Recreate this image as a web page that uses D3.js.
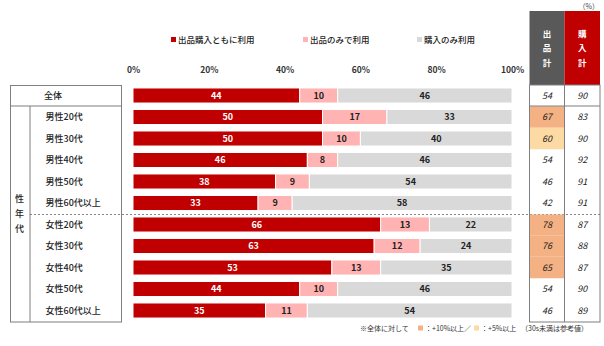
<!DOCTYPE html>
<html><head><meta charset="utf-8">
<script src="https://cdn.jsdelivr.net/npm/d3@7"></script>
<style>body{margin:0;background:#fff;} text{font-family:"Noto Sans CJK JP","Noto Sans",sans-serif;}</style>
</head><body>
<svg id="c" width="604" height="346"></svg>
<script>
const categories = ["全体","男性20代","男性30代","男性40代","男性50代","男性60代以上","女性20代","女性30代","女性40代","女性50代","女性60代以上"];
const seriesNames = ["出品購入ともに利用","出品のみで利用","購入のみ利用"];
const both = [44,50,50,46,38,33,66,63,53,44,35];
const sellOnly = [10,17,10,8,9,9,13,12,13,10,11];
const buyOnly = [46,33,40,46,54,58,22,24,35,46,54];
const sellTotal = [54,67,60,54,46,42,78,76,65,54,46];
const buyTotal = [90,83,90,92,91,91,87,88,87,90,89];
// highlight: 2 = +10%以上, 1 = +5%以上
const sellHighlight = [0,2,1,0,0,0,2,2,2,0,0];
const xTicks = [0,20,40,60,80,100];
const colors = ["#c00000","#ffb3b3","#d9d9d9"];
const hlColors = {2:"#f4b183",1:"#fdd9a3"};

const svg = d3.select("#c");
const x = d3.scaleLinear().domain([0,100]).range([133,512]);
const y = d3.scaleBand().domain(categories).range([84.75,321.25]).paddingInner(0.3).paddingOuter(0.15);

// legend
const legX = [171,303,417];
seriesNames.forEach((s,i)=>{
  svg.append("rect").attr("x",legX[i]).attr("y",37).attr("width",5).attr("height",5).attr("fill",colors[i]);
  svg.append("text").attr("x",legX[i]+7).attr("y",43).attr("font-size",8.5).attr("font-weight",500).attr("fill","#222").text(s);
});

// axis labels
const axis = d3.axisTop(x).tickValues(xTicks).tickFormat(d=>d+"%").tickSize(0);
const ag = svg.append("g").attr("transform","translate(0,76)").call(axis);
ag.select(".domain").remove();
ag.selectAll("text").attr("font-size",8.5).attr("font-weight",600).attr("fill","#333")
  .style("font-family","'Noto Sans CJK JP',sans-serif");

// bars
const stackData = categories.map((c,i)=>({cat:c, a:both[i], b:sellOnly[i], c2:buyOnly[i]}));
const stack = d3.stack().keys(["a","b","c2"]).offset(d3.stackOffsetExpand);
const layers = stack(stackData);
layers.forEach((layer,li)=>{
  const g = svg.append("g");
  layer.forEach((d,i)=>{
    const x0 = x(d[0]*100), x1 = x(d[1]*100);
    g.append("rect").attr("x",x0).attr("y",y(categories[i])).attr("width",x1-x0).attr("height",y.bandwidth())
      .attr("fill",colors[li]).attr("stroke","#fff").attr("stroke-width",1);
    const v = [both,sellOnly,buyOnly][li][i];
    g.append("text").attr("x",(x0+x1)/2).attr("y",y(categories[i])+y.bandwidth()/2+3.3)
      .attr("text-anchor","middle").attr("font-size",9).attr("font-weight",600)
      .attr("fill",li===0?"#fff":"#222").text(v);
  });
});

// left table
const tg = svg.append("g").attr("stroke","#7f7f7f").attr("fill","none");
tg.append("rect").attr("x",10.5).attr("y",85.5).attr("width",111).attr("height",236.5);
tg.append("line").attr("x1",10.5).attr("x2",121.5).attr("y1",106).attr("y2",106);
tg.append("line").attr("x1",30).attr("x2",30).attr("y1",106).attr("y2",322);
// dashed separator
svg.append("line").attr("x1",30).attr("x2",600).attr("y1",214.5).attr("y2",214.5)
  .attr("stroke","#666").attr("stroke-dasharray","2,2").attr("stroke-width",0.8);

categories.forEach((c,i)=>{
  const cy = y(c)+y.bandwidth()/2+3.3;
  svg.append("text").attr("x", i===0?53:45.5).attr("y",cy).attr("text-anchor",i===0?"middle":"start")
    .attr("font-size",9).attr("font-weight",500).attr("fill","#222").text(c);
});
["性","年","代"].forEach((ch,k)=>{
  svg.append("text").attr("x",19.5).attr("y",201.5+k*15.2).attr("text-anchor","middle")
    .attr("font-size",9).attr("font-weight",500).attr("fill","#222").text(ch);
});

// right table
const c1 = 529.5, c2 = 564.5, c3 = 600;
svg.append("rect").attr("x",c1).attr("y",11).attr("width",c2-c1).attr("height",74).attr("fill","#595959");
svg.append("rect").attr("x",c2).attr("y",11).attr("width",c3-c2).attr("height",74).attr("fill","#c00000");
[["出","品","計"],["購","入","計"]].forEach((arr,j)=>{
  arr.forEach((ch,k)=>{
    svg.append("text").attr("x",j===0?(c1+c2)/2:(c2+c3)/2).attr("y",36.5+k*14.5).attr("text-anchor","middle")
      .attr("font-size",8.5).attr("font-weight",700).attr("fill","#fff").text(ch);
  });
});
svg.append("text").attr("x",599).attr("y",9).attr("text-anchor","end").attr("font-size",7).attr("fill","#444").text("（%）");

// highlight cells
categories.forEach((c,i)=>{
  if(sellHighlight[i]){
    const top = i===6 ? 214.5 : y(c) - y.step()*y.paddingInner()/2;
    const bot = y(c) + y.bandwidth() + y.step()*y.paddingInner()/2;
    svg.append("rect").attr("x",c1).attr("y",top).attr("width",c2-c1)
      .attr("height", bot-top).attr("fill",hlColors[sellHighlight[i]]);
  }
});
const rg = svg.append("g").attr("stroke","#7f7f7f").attr("fill","none");
rg.append("rect").attr("x",c1).attr("y",85).attr("width",c3-c1).attr("height",237);
rg.append("line").attr("x1",c2).attr("x2",c2).attr("y1",85).attr("y2",322);
rg.append("line").attr("x1",c1).attr("x2",c3).attr("y1",106).attr("y2",106);

categories.forEach((c,i)=>{
  const cy = y(c)+y.bandwidth()/2+3.3;
  svg.append("text").attr("x",(c1+c2)/2).attr("y",cy).attr("text-anchor","middle").attr("font-size",9)
    .attr("font-style","italic").attr("fill","#222").text(sellTotal[i]);
  svg.append("text").attr("x",(c2+c3)/2).attr("y",cy).attr("text-anchor","middle").attr("font-size",9)
    .attr("font-style","italic").attr("fill","#222").text(buyTotal[i]);
});

// footnote
svg.append("text").attr("x",360).attr("y",331).attr("font-size",7).attr("fill","#333").text("※全体に対して");
svg.append("rect").attr("x",418).attr("y",325.5).attr("width",5).attr("height",5).attr("fill",hlColors[2]);
svg.append("text").attr("x",425).attr("y",331).attr("font-size",7).attr("fill","#333").text("：+10%以上／");
svg.append("rect").attr("x",474).attr("y",325.5).attr("width",5).attr("height",5).attr("fill",hlColors[1]);
svg.append("text").attr("x",481).attr("y",331).attr("font-size",7).attr("fill","#333").text("：+5%以上");
svg.append("text").attr("x",521).attr("y",331).attr("font-size",7).attr("fill","#333").text("（30s未満は参考値）");
</script>
</body></html>
